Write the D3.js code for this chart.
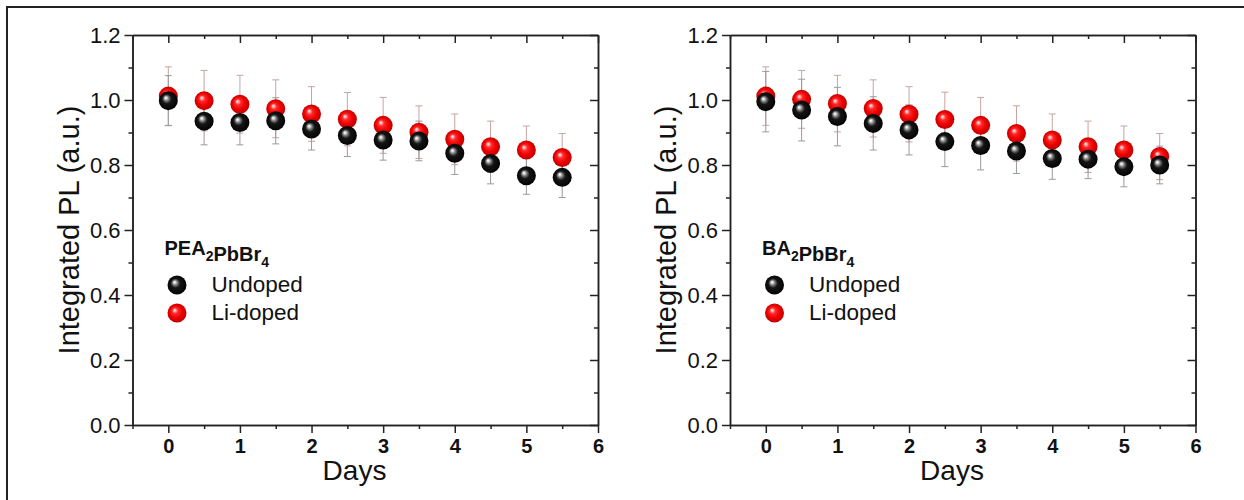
<!DOCTYPE html>
<html>
<head>
<meta charset="utf-8">
<script src="https://cdn.jsdelivr.net/npm/d3@7"></script>
<style>
  body { margin: 0; background: #fff; }
  text { font-family: "Liberation Sans", Arial, sans-serif; fill: #111; }
</style>
</head>
<body>
<svg id="chart" width="1244" height="500"></svg>
<script>
// data
var days = [0, 0.5, 1, 1.5, 2, 2.5, 3, 3.5, 4, 4.5, 5, 5.5];

var peaUndoped    = [0.998, 0.935, 0.931, 0.936, 0.911, 0.891, 0.877, 0.874, 0.836, 0.805, 0.767, 0.762];
var peaUndopedErr = [0.077, 0.073, 0.069, 0.071, 0.065, 0.065, 0.062, 0.061, 0.065, 0.063, 0.057, 0.062];
var peaLi         = [1.012, 0.998, 0.987, 0.973, 0.957, 0.941, 0.922, 0.901, 0.879, 0.856, 0.846, 0.823];
var peaLiErr      = [0.090, 0.093, 0.089, 0.089, 0.084, 0.082, 0.086, 0.081, 0.078, 0.079, 0.074, 0.074];

var baUndoped     = [0.995, 0.969, 0.949, 0.928, 0.908, 0.872, 0.860, 0.843, 0.820, 0.818, 0.795, 0.800];
var baUndopedErr  = [0.093, 0.095, 0.090, 0.082, 0.077, 0.077, 0.075, 0.069, 0.064, 0.060, 0.062, 0.058];
var baLi          = [1.012, 1.002, 0.989, 0.974, 0.956, 0.940, 0.922, 0.897, 0.877, 0.856, 0.846, 0.826];
var baLiErr       = [0.090, 0.089, 0.087, 0.088, 0.085, 0.084, 0.086, 0.085, 0.080, 0.079, 0.074, 0.071];

var xTicks = [0, 1, 2, 3, 4, 5, 6];
var xMinor = [-0.5, 0.5, 1.5, 2.5, 3.5, 4.5, 5.5];
var yTicks = [0, 0.2, 0.4, 0.6, 0.8, 1.0, 1.2];
var yMinor = [0.1, 0.3, 0.5, 0.7, 0.9, 1.1];

var legendLabels = ["Undoped", "Li-doped"];

var svg = d3.select("#chart");

// outer frame (only top and left edges show in the picture)
svg.append("rect")
    .attr("x", 7).attr("y", 7)
    .attr("width", 1260).attr("height", 520)
    .attr("fill", "none")
    .attr("stroke", "#222")
    .attr("stroke-width", 2);

// sphere gradients
var defs = svg.append("defs");
function sphere(id, stops) {
    var g = defs.append("radialGradient")
        .attr("id", id)
        .attr("cx", "50%").attr("cy", "50%").attr("r", "55%")
        .attr("fx", "36%").attr("fy", "34%");
    stops.forEach(function(s) {
        g.append("stop").attr("offset", s[0]).attr("stop-color", s[1]);
    });
}
sphere("ballBlack", [["0%", "#ffffff"], ["10%", "#dddddd"], ["25%", "#777777"], ["45%", "#151515"], ["100%", "#000000"]]);
sphere("ballRed", [["0%", "#fff0f0"], ["10%", "#ffb8b8"], ["28%", "#ff2a2a"], ["60%", "#ee0000"], ["100%", "#b00000"]]);

var plotW = 465.5, plotH = 390;

function panel(left, title, undoped, undopedErr, li, liErr) {
    var x = d3.scaleLinear().domain([-0.5, 6]).range([0, plotW]);
    var y = d3.scaleLinear().domain([0, 1.2]).range([plotH, 0]);

    var g = svg.append("g").attr("transform", "translate(" + left + ",35)");

    // axes: left/bottom ticks out, top/right ticks in
    g.append("g").attr("class", "ax")
        .call(d3.axisLeft(y).tickValues(yTicks).tickSize(8).tickSizeOuter(0).tickPadding(4)
            .tickFormat(d3.format(".1f")));
    g.append("g").attr("class", "ax")
        .call(d3.axisLeft(y).tickValues(yMinor).tickSize(4).tickSizeOuter(0).tickFormat(""));
    g.append("g").attr("class", "ax").attr("transform", "translate(" + plotW + ",0)")
        .call(d3.axisRight(y).tickValues(yTicks).tickSize(-8).tickSizeOuter(0).tickFormat(""));
    g.append("g").attr("class", "ax").attr("transform", "translate(" + plotW + ",0)")
        .call(d3.axisRight(y).tickValues(yMinor).tickSize(-4).tickSizeOuter(0).tickFormat(""));

    g.append("g").attr("class", "ax xb").attr("transform", "translate(0," + plotH + ")")
        .call(d3.axisBottom(x).tickValues(xTicks).tickSize(8).tickSizeOuter(0).tickPadding(6)
            .tickFormat(d3.format("d")));
    g.append("g").attr("class", "ax").attr("transform", "translate(0," + plotH + ")")
        .call(d3.axisBottom(x).tickValues(xMinor).tickSize(4).tickSizeOuter(0).tickFormat(""));
    g.append("g").attr("class", "ax")
        .call(d3.axisTop(x).tickValues(xTicks).tickSize(-8).tickSizeOuter(0).tickFormat(""));
    g.append("g").attr("class", "ax")
        .call(d3.axisTop(x).tickValues(xMinor).tickSize(-4).tickSizeOuter(0).tickFormat(""));

    g.selectAll(".ax path, .ax line").attr("stroke", "#222").attr("stroke-width", 1.5);
    g.selectAll(".ax text").attr("font-size", 22).attr("fill", "#111");
    g.selectAll(".xb text").attr("font-weight", "bold").attr("font-size", 20);

    // axis titles
    g.append("text")
        .attr("transform", "translate(-54," + (plotH / 2) + ") rotate(-90)")
        .attr("text-anchor", "middle")
        .attr("font-size", 29)
        .text("Integrated PL (a.u.)");
    g.append("text")
        .attr("x", x(2.6)).attr("y", 445)
        .attr("text-anchor", "middle")
        .attr("font-size", 28)
        .text("Days");

    // error bars
    function errBars(vals, errs, color) {
        var e = g.append("g").attr("stroke", color).attr("stroke-width", 1);
        e.selectAll("line.v").data(days).enter().append("line")
            .attr("x1", function(d) { return x(d); }).attr("x2", function(d) { return x(d); })
            .attr("y1", function(d, i) { return y(vals[i] + errs[i]); })
            .attr("y2", function(d, i) { return y(vals[i] - errs[i]); });
        [1, -1].forEach(function(s) {
            e.selectAll("line.c" + s).data(days).enter().append("line")
                .attr("x1", function(d) { return x(d) - 3.5; }).attr("x2", function(d) { return x(d) + 3.5; })
                .attr("y1", function(d, i) { return y(vals[i] + s * errs[i]); })
                .attr("y2", function(d, i) { return y(vals[i] + s * errs[i]); });
        });
    }
    errBars(li, liErr, "#c9a3a3");
    errBars(undoped, undopedErr, "#9a9a9a");

    g.append("g").selectAll("circle").data(days).enter().append("circle")
        .attr("cx", function(d) { return x(d); })
        .attr("cy", function(d, i) { return y(li[i]); })
        .attr("r", 9.5)
        .attr("fill", "url(#ballRed)");
    g.append("g").selectAll("circle").data(days).enter().append("circle")
        .attr("cx", function(d) { return x(d); })
        .attr("cy", function(d, i) { return y(undoped[i]); })
        .attr("r", 9.5)
        .attr("fill", "url(#ballBlack)");

    // legend
    var t = g.append("text").attr("x", 32).attr("y", 220)
        .attr("font-size", 20).attr("font-weight", "bold");
    title.forEach(function(p) {
        if (p.sub) {
            t.append("tspan").attr("dy", 6).attr("font-size", 14).text(p.s);
            t.append("tspan").attr("dy", -6).text("");
        } else {
            t.append("tspan").text(p.s);
        }
    });
    var fills = ["url(#ballBlack)", "url(#ballRed)"];
    legendLabels.forEach(function(lab, i) {
        g.append("circle").attr("cx", 44.5).attr("cy", 250 + i * 28).attr("r", 9.5).attr("fill", fills[i]);
        g.append("text").attr("x", 79).attr("y", 257 + i * 28).attr("font-size", 22.5).text(lab);
    });
}

panel(132.5, [{s: "PEA"}, {s: "2", sub: true}, {s: "PbBr"}, {s: "4", sub: true}],
    peaUndoped, peaUndopedErr, peaLi, peaLiErr);
panel(730, [{s: "BA"}, {s: "2", sub: true}, {s: "PbBr"}, {s: "4", sub: true}],
    baUndoped, baUndopedErr, baLi, baLiErr);
</script>
</body>
</html>
